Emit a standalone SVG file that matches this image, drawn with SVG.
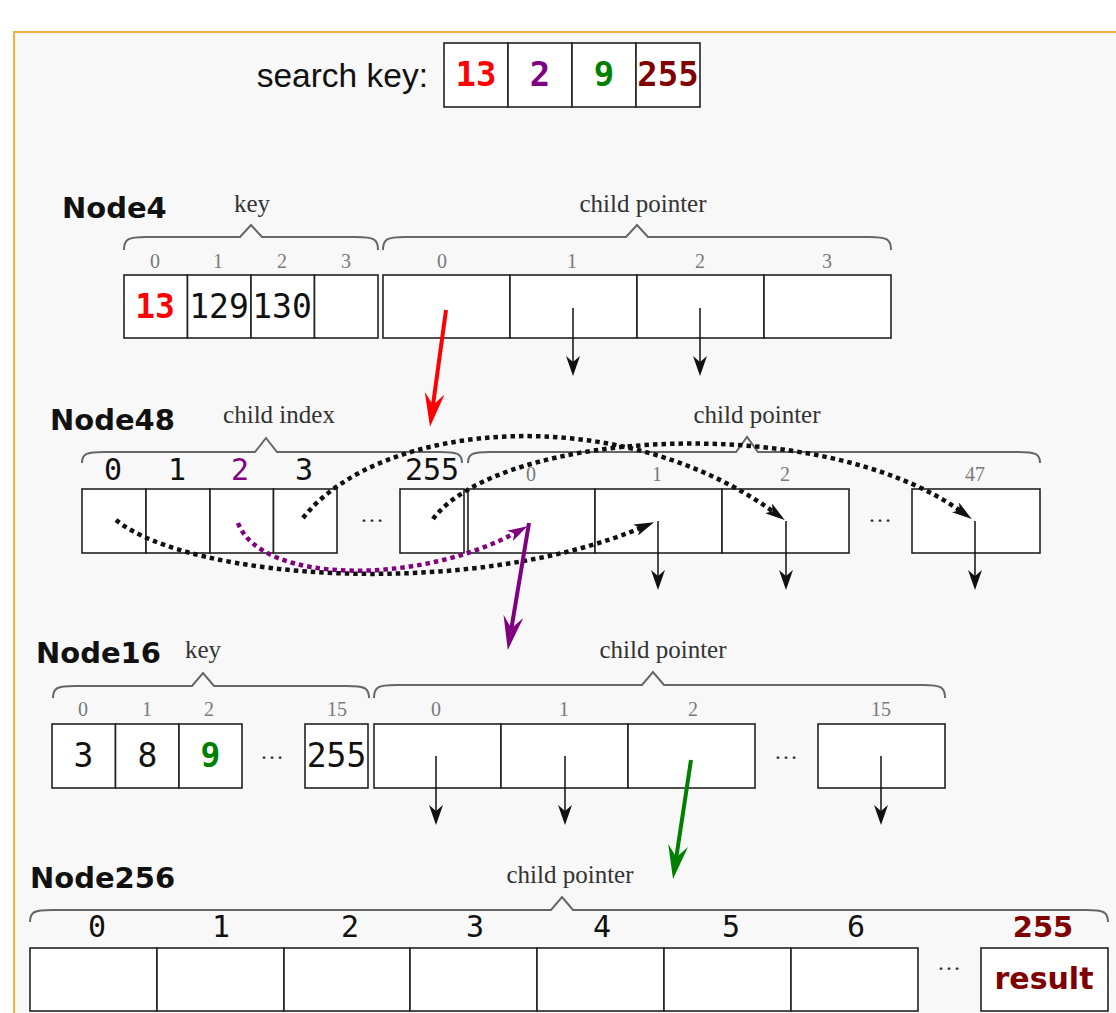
<svg xmlns="http://www.w3.org/2000/svg" width="1116" height="1013" viewBox="0 0 1116 1013">
<style>
.cell{fill:#fff;stroke:#222;stroke-width:1.6}
.idx{font-family:"Liberation Serif",serif;font-size:20px;fill:#7a7a7a;text-anchor:middle}
.lbl{font-family:"Liberation Serif",serif;font-size:25px;fill:#333;text-anchor:middle}
.title{font-family:"DejaVu Sans",sans-serif;font-weight:bold;font-size:29px;fill:#111}
.val{font-family:"DejaVu Sans Mono",monospace;font-size:33px;fill:#111;text-anchor:middle}
.mono{font-family:"DejaVu Sans Mono",monospace;font-size:30px;fill:#111;text-anchor:middle}
.bold{font-weight:bold}
.brace{fill:none;stroke:#666;stroke-width:2}
.ptr{stroke:#111;stroke-width:1.5;fill:none;marker-end:url(#ah)}
.dot{stroke-width:4.5;stroke-dasharray:4.5 4;fill:none}
.dots{font-family:"Liberation Serif",serif;font-size:24px;fill:#333;text-anchor:middle}
.red{fill:#ff0000}.purple{fill:#800080}.green{fill:#008000}.dred{fill:#800000}
</style>
<defs>
<marker id="ah" viewBox="0 0 20 14" refX="8" refY="7" markerWidth="20" markerHeight="14" markerUnits="userSpaceOnUse" orient="auto"><path d="M0,0 L20,7 L0,14 L6,7 Z" fill="#111"/></marker>
<marker id="dah" viewBox="0 0 20 12" refX="8" refY="6" markerWidth="20" markerHeight="12" markerUnits="userSpaceOnUse" orient="auto"><path d="M0,0 L20,6 L0,12 L5,6 Z" fill="#111"/></marker>
<marker id="dahP" viewBox="0 0 20 12" refX="8" refY="6" markerWidth="20" markerHeight="12" markerUnits="userSpaceOnUse" orient="auto"><path d="M0,0 L20,6 L0,12 L5,6 Z" fill="#800080"/></marker>
<marker id="bahR" viewBox="0 0 34 20" refX="12" refY="10" markerWidth="34" markerHeight="20" markerUnits="userSpaceOnUse" orient="auto"><path d="M0,0 L34,10 L0,20 L12,10 Z" fill="#ff0000"/></marker>
<marker id="bahP" viewBox="0 0 34 20" refX="12" refY="10" markerWidth="34" markerHeight="20" markerUnits="userSpaceOnUse" orient="auto"><path d="M0,0 L34,10 L0,20 L12,10 Z" fill="#800080"/></marker>
<marker id="bahG" viewBox="0 0 34 20" refX="12" refY="10" markerWidth="34" markerHeight="20" markerUnits="userSpaceOnUse" orient="auto"><path d="M0,0 L34,10 L0,20 L12,10 Z" fill="#008000"/></marker>
</defs>
<rect x="0" y="0" width="1116" height="1013" fill="#ffffff"/>
<rect x="14" y="32" width="1120" height="1000" fill="#f8f8f8" stroke="#f4b13c" stroke-width="2"/>

<g id="searchkey">
<text x="428" y="87" text-anchor="end" style="font-family:'Liberation Sans',Arial,sans-serif;font-size:33.5px;fill:#111">search key:</text>
<rect class="cell" x="444" y="43" width="64" height="64"/>
<rect class="cell" x="508" y="43" width="64" height="64"/>
<rect class="cell" x="572" y="43" width="64" height="64"/>
<rect class="cell" x="636" y="43" width="64" height="64"/>
<text class="val bold red" x="476" y="86" style="font-size:34px">13</text>
<text class="val bold purple" x="540" y="86" style="font-size:34px">2</text>
<text class="val bold green" x="604" y="86" style="font-size:34px">9</text>
<text class="val bold dred" x="668" y="86" style="font-size:34px">255</text>
</g>

<g id="node4">
<text class="title" x="62" y="218">Node4</text>
<path class="brace" d="M124,250 C124,239 128,237 146,237 L240,237 L251,225 L262,237 L356,237 C374,237 378,239 378,250"/>
<path class="brace" d="M383,250 C383,239 387,237 405,237 L626,237 L637,225 L648,237 L869,237 C887,237 891,239 891,250"/>
<text class="lbl" x="252" y="212">key</text>
<text class="lbl" x="643" y="212">child pointer</text>
<text class="idx" x="155" y="268">0</text><text class="idx" x="218" y="268">1</text><text class="idx" x="282" y="268">2</text><text class="idx" x="346" y="268">3</text>
<text class="idx" x="442" y="268">0</text><text class="idx" x="572" y="268">1</text><text class="idx" x="700" y="268">2</text><text class="idx" x="827" y="268">3</text>
<rect class="cell" x="124" y="275" width="63.5" height="63"/>
<rect class="cell" x="187.5" y="275" width="63.5" height="63"/>
<rect class="cell" x="251" y="275" width="63.5" height="63"/>
<rect class="cell" x="314.5" y="275" width="63.5" height="63"/>
<rect class="cell" x="383" y="275" width="127" height="63"/>
<rect class="cell" x="510" y="275" width="127" height="63"/>
<rect class="cell" x="637" y="275" width="127" height="63"/>
<rect class="cell" x="764" y="275" width="127" height="63"/>
<text class="val bold red" x="155" y="318">13</text>
<text class="val" x="219" y="318">129</text>
<text class="val" x="282" y="318">130</text>
</g>

<g id="node48">
<text class="title" x="50" y="430">Node48</text>
<path class="brace" d="M82,463 C82,454 86,452 104,452 L255,452 L266,438 L277,452 L440,452 C458,452 462,454 462,463"/>
<path class="brace" d="M468,463 C468,454 472,452 490,452 L736,452 L747,437 L758,452 L1018,452 C1036,452 1040,454 1040,463"/>
<text class="lbl" x="279" y="423">child index</text>
<text class="lbl" x="757" y="423">child pointer</text>
<text class="mono" x="113" y="480">0</text><text class="mono" x="177" y="480">1</text><text class="mono purple" x="240" y="480">2</text><text class="mono" x="304" y="480">3</text><text class="mono" x="432" y="480">255</text>
<text class="idx" x="531" y="481">0</text><text class="idx" x="657" y="481">1</text><text class="idx" x="785" y="481">2</text><text class="idx" x="975" y="481">47</text>
<rect class="cell" x="82" y="489" width="64" height="64"/>
<rect class="cell" x="146" y="489" width="64" height="64"/>
<rect class="cell" x="210" y="489" width="63.5" height="64"/>
<rect class="cell" x="273.5" y="489" width="63.5" height="64"/>
<text class="dots" x="372" y="522">…</text>
<rect class="cell" x="400" y="489" width="64" height="64"/>
<rect class="cell" x="468" y="489" width="127" height="64"/>
<rect class="cell" x="595" y="489" width="127" height="64"/>
<rect class="cell" x="722" y="489" width="127" height="64"/>
<text class="dots" x="880" y="522">…</text>
<rect class="cell" x="912" y="489" width="128" height="64"/>
</g>

<g id="node16">
<text class="title" x="36" y="663">Node16</text>
<path class="brace" d="M53,698 C53,688 57,686 75,686 L192,686 L203,673 L214,686 L347,686 C365,686 369,688 369,698"/>
<path class="brace" d="M374,698 C374,687 378,685 396,685 L642,685 L653,672 L664,685 L923,685 C941,685 945,687 945,698"/>
<text class="lbl" x="203" y="658">key</text>
<text class="lbl" x="663" y="658">child pointer</text>
<text class="idx" x="83" y="716">0</text><text class="idx" x="147" y="716">1</text><text class="idx" x="209" y="716">2</text><text class="idx" x="337" y="716">15</text>
<text class="idx" x="436" y="716">0</text><text class="idx" x="564" y="716">1</text><text class="idx" x="693" y="716">2</text><text class="idx" x="881" y="716">15</text>
<rect class="cell" x="52" y="724" width="63.5" height="64"/>
<rect class="cell" x="115.5" y="724" width="63.5" height="64"/>
<rect class="cell" x="179" y="724" width="63" height="64"/>
<text class="dots" x="272" y="759">…</text>
<rect class="cell" x="305" y="724" width="63" height="64"/>
<rect class="cell" x="374" y="724" width="127" height="64"/>
<rect class="cell" x="501" y="724" width="127" height="64"/>
<rect class="cell" x="628" y="724" width="127" height="64"/>
<text class="dots" x="786" y="759">…</text>
<rect class="cell" x="818" y="724" width="127" height="64"/>
<text class="val" x="83.5" y="767">3</text>
<text class="val" x="147.5" y="767">8</text>
<text class="val bold green" x="210.5" y="767">9</text>
<text class="val" x="336.5" y="767">255</text>
</g>

<g id="node256">
<text class="title" x="30" y="888">Node256</text>
<path class="brace" d="M30,922 C30,912 34,910 52,910 L551,910 L562,897 L573,910 L1086,910 C1104,910 1108,912 1108,922"/>
<text class="lbl" x="570" y="883">child pointer</text>
<text class="mono" x="97" y="937">0</text><text class="mono" x="221" y="937">1</text><text class="mono" x="350" y="937">2</text><text class="mono" x="475" y="937">3</text><text class="mono" x="602" y="937">4</text><text class="mono" x="731" y="937">5</text><text class="mono" x="856" y="937">6</text>
<text class="title dred" x="1043" y="937" text-anchor="middle">255</text>
<rect class="cell" x="30" y="948" width="127" height="63"/>
<rect class="cell" x="157" y="948" width="127" height="63"/>
<rect class="cell" x="284" y="948" width="126" height="63"/>
<rect class="cell" x="410" y="948" width="127" height="63"/>
<rect class="cell" x="537" y="948" width="127" height="63"/>
<rect class="cell" x="664" y="948" width="127" height="63"/>
<rect class="cell" x="791" y="948" width="127" height="63"/>
<text class="dots" x="949" y="970">…</text>
<rect class="cell" x="981" y="948" width="127" height="63"/>
<text class="title dred" x="1044" y="989" text-anchor="middle" style="font-size:30px">result</text>
</g>

<g id="connectors">
<line class="ptr" x1="573" y1="308" x2="573" y2="364"/>
<line class="ptr" x1="700" y1="308" x2="700" y2="364"/>
<line class="ptr" x1="658" y1="521" x2="658" y2="578"/>
<line class="ptr" x1="786" y1="521" x2="786" y2="578"/>
<line class="ptr" x1="975" y1="521" x2="975" y2="578"/>
<line class="ptr" x1="436" y1="756" x2="436" y2="813"/>
<line class="ptr" x1="565" y1="756" x2="565" y2="813"/>
<line class="ptr" x1="881" y1="756" x2="881" y2="813"/>
<path class="dot" stroke="#111" marker-end="url(#dah)" d="M116,520 C190,580 470,600 643,527"/>
<path class="dot" stroke="#111" marker-end="url(#dah)" d="M303,518 C380,420 620,400 775,513"/>
<path class="dot" stroke="#111" marker-end="url(#dah)" d="M433,519 C500,430 820,410 962,512"/>
<path class="dot" stroke="#800080" marker-end="url(#dahP)" d="M238,523 C262,585 420,585 517,532"/>
<line x1="446" y1="310" x2="433" y2="405" stroke="#ff0000" stroke-width="4" marker-end="url(#bahR)"/>
<line x1="529" y1="523" x2="511.4" y2="628.3" stroke="#800080" stroke-width="4" marker-end="url(#bahP)"/>
<line x1="691" y1="760" x2="676.3" y2="857.3" stroke="#008000" stroke-width="4" marker-end="url(#bahG)"/>
</g>
</svg>
